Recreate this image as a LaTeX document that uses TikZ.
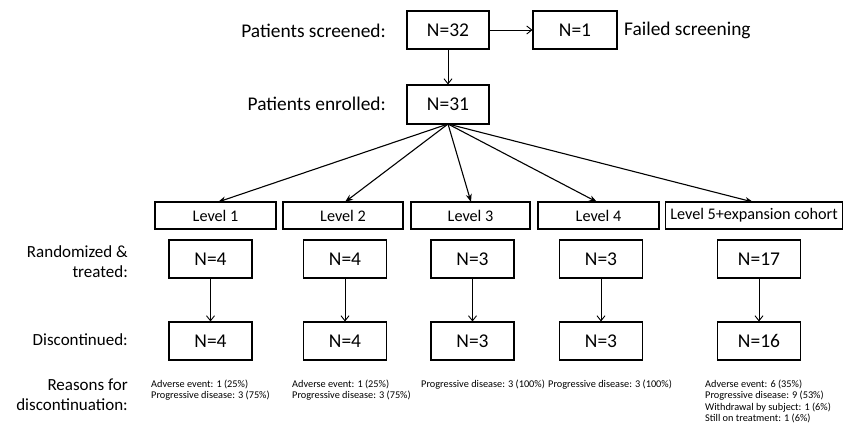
\documentclass[tikz,border=0pt]{standalone}
\usepackage{fontspec}
\setmainfont{Carlito}
\usetikzlibrary{arrows.meta}
\begin{document}
\begin{tikzpicture}[x=1pt,y=-1pt,
  box/.style={draw,line width=1.1pt,inner sep=0pt,font=\fontsize{19.5}{22}\selectfont},
  nbox/.style={box,minimum width=83pt,minimum height=38pt},
  lvl/.style={draw,line width=1.1pt,inner sep=0pt,minimum height=27pt,font=\fontsize{16.2}{19}\selectfont},
  lab/.style={inner sep=0pt,anchor=east,align=right,font=\fontsize{17}{20}\selectfont},
  toplab/.style={inner sep=0pt,font=\fontsize{19.4}{22}\selectfont},
  why/.style={inner sep=0pt,anchor=north west,align=left,font=\fontsize{10.3}{11.4}\selectfont},
  openarr/.style={-{Straight Barb[length=5pt,width=8pt]},line width=0.9pt},
  fanarr/.style={-{Stealth[length=8pt,width=6pt]},line width=1.1pt}]
\useasboundingbox (0,0) rectangle (844,426);
% top
\node[nbox,minimum width=82pt] (n32) at (448,30) {N=32};
\node[nbox,minimum width=84pt] (n1) at (575,30) {N=1};
\node[nbox,minimum width=82pt,minimum height=39pt] (n31) at (448,104.5) {N=31};
\node[toplab,anchor=east] (lscr) at (386,31) {Patients screened:};
\node[toplab,anchor=east] (lenr) at (386,104) {Patients enrolled:};
\node[toplab,anchor=west] (lfail) at (624,30) {Failed screening};
\draw[openarr] (n32) -- (n1);
\draw[openarr] (n32) -- (n31);
% levels
\node[lvl,minimum width=121pt] (l1) at (215.5,215.5) {Level 1};
\node[lvl,minimum width=120pt] (l2) at (343,215.5) {Level 2};
\node[lvl,minimum width=119pt] (l3) at (470.5,215.5) {Level 3};
\node[lvl,minimum width=121pt] (l4) at (598.5,215.5) {Level 4};
\node[lvl,minimum width=177pt] (l5) at (754,215.5) {Level 5+expansion cohort};
\coordinate (fan) at (448,124);
\coordinate (e1) at (218,202);
\coordinate (e2) at (345,202);
\coordinate (e3) at (471,202);
\coordinate (e4) at (597,202);
\coordinate (e5) at (753,202);
\foreach \e in {e1,e2,e3,e4,e5} \draw[fanarr] (fan) -- (\e);
% rows
\node[nbox] (r1) at (210.5,259) {N=4};
\node[nbox] (r2) at (345,259) {N=4};
\node[nbox] (r3) at (472.5,259) {N=3};
\node[nbox] (r4) at (601,259) {N=3};
\node[nbox] (r5) at (759,259) {N=17};
\node[nbox] (d1) at (210.5,341) {N=4};
\node[nbox] (d2) at (345,341) {N=4};
\node[nbox] (d3) at (472.5,341) {N=3};
\node[nbox] (d4) at (601,341) {N=3};
\node[nbox] (d5) at (759,341) {N=16};
\foreach \i in {1,...,5} \draw[openarr] (r\i) -- (d\i);
% left labels
\node[lab] (lrand) at (128,262) {Randomized \&\\treated:};
\node[lab] (ldisc) at (128,340) {Discontinued:};
\node[lab] (lreas) at (128,395) {Reasons for\\discontinuation:};
% reasons
\node[why] (w1) at (151,379.5) {Adverse event: 1 (25\%)\\Progressive disease: 3 (75\%)};
\node[why] (w2) at (292,379.5) {Adverse event: 1 (25\%)\\Progressive disease: 3 (75\%)};
\node[why] (w3) at (421,379.5) {Progressive disease: 3 (100\%)};
\node[why] (w4) at (548,379.5) {Progressive disease: 3 (100\%)};
\node[why] (w5) at (705,379.5) {Adverse event: 6 (35\%)\\Progressive disease: 9 (53\%)\\Withdrawal by subject: 1 (6\%)\\Still on treatment: 1 (6\%)};
\end{tikzpicture}
\end{document}
